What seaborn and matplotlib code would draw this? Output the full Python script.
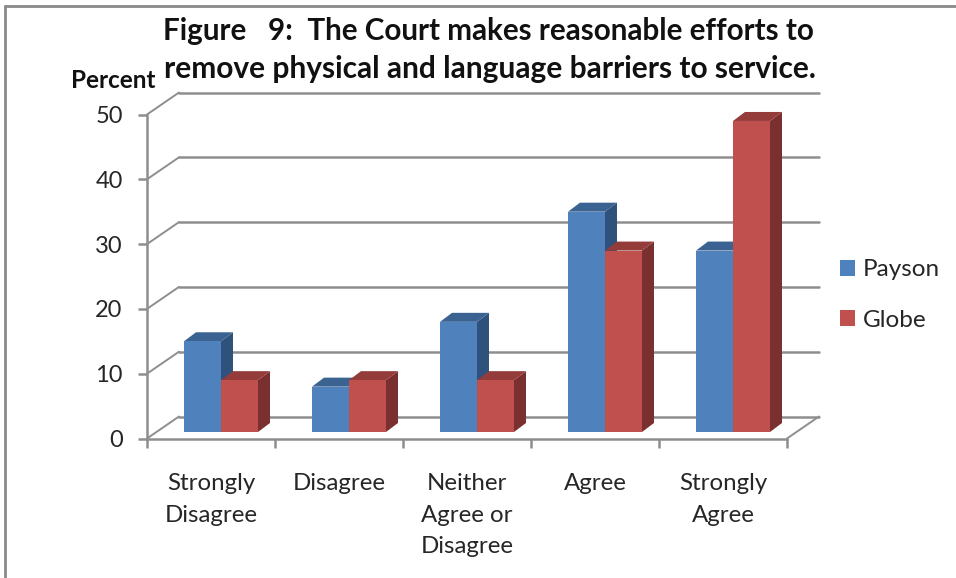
import matplotlib
matplotlib.use('Agg')
import numpy as np
import pandas as pd
import matplotlib.pyplot as plt
import seaborn as sns
from matplotlib.lines import Line2D
from matplotlib.patches import Polygon
from matplotlib.transforms import Affine2D, IdentityTransform

# Values
categories = ['Strongly\nDisagree', 'Disagree', 'Neither\nAgree or\nDisagree', 'Agree', 'Strongly\nAgree']
payson = [14, 7, 17, 34, 28]
globe = [8, 8, 8, 28, 48]
series_names = ['Payson', 'Globe']
y_ticks = [0, 10, 20, 30, 40, 50]
title_lines = ['Figure   9:  The Court makes reasonable efforts to',
               'remove physical and language barriers to service.']

front_colors = ['#4F81BD', '#C0504D']
side_colors = ['#2F527C', '#7A302E']
top_colors = ['#3B6392', '#943C3A']
line_gray = '#8E8E8E'
text_color = '#262626'

W, H = 956, 578

df = pd.DataFrame({
    'category': categories * 2,
    'series': [series_names[0]] * 5 + [series_names[1]] * 5,
    'percent': payson + globe,
})

sns.set_style('white')
plt.rcParams['font.family'] = ['Lato', 'DejaVu Sans']

fig = plt.figure(figsize=(W / 100, H / 100), dpi=100)

# front plane of the chart box, in pixels
left, right, bottom, top = 147, 787, 438.5, 114.5
ax = fig.add_axes([left / W, 1 - bottom / H, (right - left) / W, (bottom - top) / H])

sns.barplot(data=df, x='category', y='percent', hue='series', hue_order=series_names,
            palette=front_colors, saturation=1, width=0.578, gap=0, linewidth=0, ax=ax)
ax.set_xlim(-0.5, 4.5)
ax.set_ylim(0, 50)

# the bars stand inside the box, the gridlines sit on the back wall
bar_shift = ax.transData + Affine2D().translate(10, 6.5)
back_dx, back_dy = 32, 22
back = ax.transData + Affine2D().translate(back_dx, back_dy)
bar_dx, bar_dy = 12, 9

for s, container in enumerate(ax.containers):
    for bar in container:
        bar.set_transform(bar_shift)
        bar.set_clip_on(False)
        bar.set_zorder(4)
        x0, x1 = bar.get_x(), bar.get_x() + bar.get_width()
        h = bar.get_height()
        (px0, py0), (px1, py1) = bar_shift.transform([(x0, 0), (x1, h)])
        side = [(px1, py0), (px1 + bar_dx, py0 + bar_dy), (px1 + bar_dx, py1 + bar_dy), (px1, py1)]
        roof = [(px0, py1), (px0 + bar_dx, py1 + bar_dy), (px1 + bar_dx, py1 + bar_dy), (px1, py1)]
        ax.add_patch(Polygon(side, closed=True, fc=side_colors[s], ec='none',
                             transform=IdentityTransform(), clip_on=False, zorder=2.5 + s * 0.2))
        ax.add_patch(Polygon(roof, closed=True, fc=top_colors[s], ec='none',
                             transform=IdentityTransform(), clip_on=False, zorder=2.6 + s * 0.2))

# back wall gridlines and the slanted lines joining them to the axis
for v in y_ticks:
    ax.plot([-0.5, 4.5], [v, v], color=line_gray, lw=1.8, transform=back, clip_on=False, zorder=1)
    (fx, fy) = ax.transData.transform((-0.5, v))
    ax.add_line(Line2D([fx, fx + back_dx], [fy, fy + back_dy], color=line_gray, lw=1.4,
                       transform=IdentityTransform(), clip_on=False, zorder=1))
(fx, fy) = ax.transData.transform((4.5, 0))
ax.add_line(Line2D([fx, fx + back_dx], [fy, fy + back_dy], color=line_gray, lw=1.4,
                   transform=IdentityTransform(), clip_on=False, zorder=1))

sns.despine(ax=ax, top=True, right=True)
for name in ['left', 'bottom']:
    ax.spines[name].set_color(line_gray)
    ax.spines[name].set_linewidth(1.8)

ax.set_xlabel('')
ax.set_ylabel('')
ax.set_yticks(y_ticks)
ax.set_xticks(np.arange(5))
ax.set_xticks(np.arange(-0.5, 5), minor=True)
ax.set_xticklabels(categories, fontsize=17.3, color=text_color, linespacing=1.62)
ax.tick_params(axis='x', which='major', length=0, pad=25)
ax.tick_params(axis='x', which='minor', length=6.5, width=1.8, color=line_gray, bottom=True)
ax.tick_params(axis='y', length=6.5, width=1.8, color=line_gray, left=True, labelsize=17,
               labelcolor=text_color, pad=11)

handles, labels = ax.get_legend_handles_labels()
ax.legend(handles, labels, loc='center left', bbox_to_anchor=(840 / W, 1 - 295 / H),
          bbox_transform=fig.transFigure, frameon=False, fontsize=17.5, labelcolor=text_color,
          handlelength=0.63, handleheight=0.63, handletextpad=0.32, labelspacing=1.2,
          borderpad=0, borderaxespad=0)

fig.text(488 / W, 1 - 31 / H, title_lines[0], ha='center', va='center', fontsize=21.3,
         fontweight='bold', color='#111111')
fig.text(490 / W, 1 - 69 / H, title_lines[1], ha='center', va='center', fontsize=21.5,
         fontweight='bold', color='#111111')
fig.text(71 / W, 1 - 81 / H, 'Percent', ha='left', va='center', fontsize=17.5,
         fontweight='bold', color='#111111')

# picture frame on the top and left edges
fig.add_artist(Line2D([5 / W, 1], [1 - 6 / H, 1 - 6 / H], color='#8A8A8A', lw=2))
fig.add_artist(Line2D([5 / W, 5 / W], [0, 1 - 6 / H], color='#8A8A8A', lw=2))

fig.savefig('out.png', dpi=100)
